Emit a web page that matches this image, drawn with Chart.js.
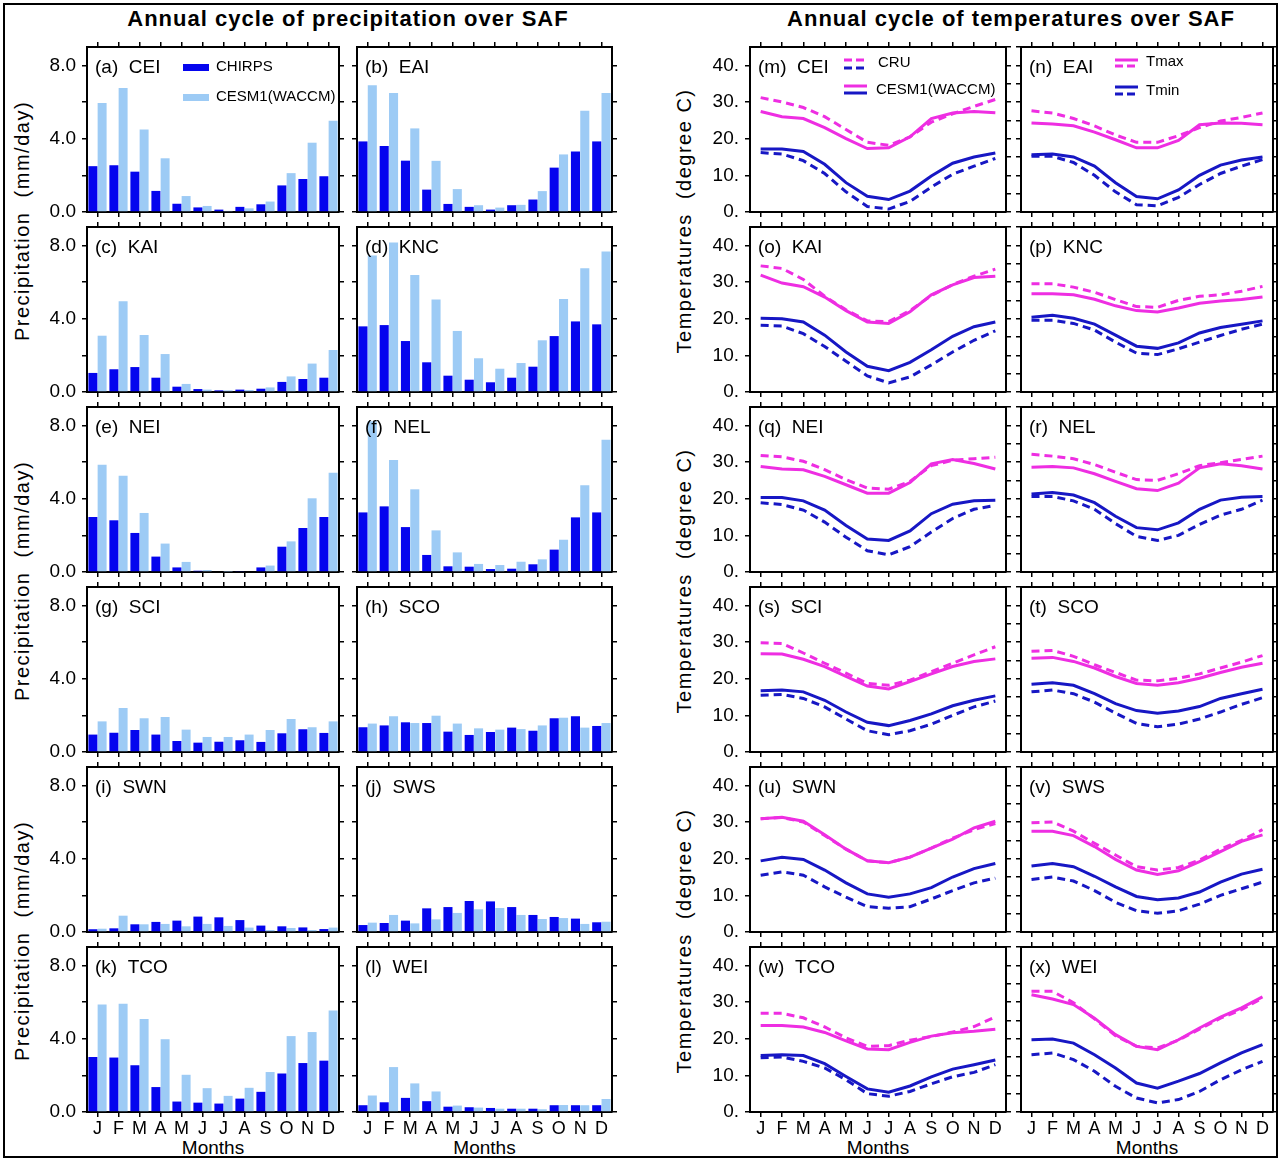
<!DOCTYPE html>
<html>
<head>
<meta charset="utf-8">
<title>Annual cycle over SAF</title>
<script src="https://cdn.jsdelivr.net/npm/chart.js@4.4.0/dist/chart.umd.min.js"></script>
<style>
  body { margin: 0; background: #fff; width: 1280px; height: 1159px; position: relative; overflow: hidden;
         font-family: 'Liberation Sans', Arial, sans-serif; color: #000; }
  canvas { position: absolute; }
  .frame { position: absolute; left: 3px; top: 3px; width: 1271px; height: 1151px; border: 2px solid #000; }
  .title { position: absolute; top: 6px; width: 600px; text-align: center; font-weight: bold; font-size: 22px;
           line-height: 26px; letter-spacing: 1px; }
  .ytitle { position: absolute; font-size: 20px; white-space: pre; letter-spacing: 1.5px;
            transform: translate(-50%, -50%) rotate(-90deg); }
  .months { position: absolute; top: 1137px; width: 200px; text-align: center; font-size: 19px; line-height: 22px; }
</style>
</head>
<body>
<div class="frame"></div>
<div class="title" style="left:48px">Annual cycle of precipitation over SAF</div>
<div class="title" style="left:711px">Annual cycle of temperatures over SAF</div>
<div id="texts"></div>

<script>
const months = ['J', 'F', 'M', 'A', 'M', 'J', 'J', 'A', 'S', 'O', 'N', 'D'];
const regions = ['CEI', 'EAI', 'KAI', 'KNC', 'NEI', 'NEL', 'SCI', 'SCO', 'SWN', 'SWS', 'TCO', 'WEI'];
const precLetters = ['a', 'b', 'c', 'd', 'e', 'f', 'g', 'h', 'i', 'j', 'k', 'l'];
const tempLetters = ['m', 'n', 'o', 'p', 'q', 'r', 's', 't', 'u', 'v', 'w', 'x'];

// precipitation (mm/day), one row per region in the order above
const chirpsPr = [
    [2.5, 2.55, 2.2, 1.15, 0.45, 0.25, 0.13, 0.28, 0.42, 1.45, 1.8, 1.95],      // CEI
    [3.85, 3.6, 2.8, 1.22, 0.44, 0.28, 0.13, 0.37, 0.68, 2.42, 3.3, 3.85],      // EAI
    [1.04, 1.24, 1.36, 0.78, 0.29, 0.16, 0.09, 0.13, 0.18, 0.55, 0.71, 0.78],   // KAI
    [3.58, 3.65, 2.78, 1.62, 0.89, 0.67, 0.53, 0.78, 1.38, 3.05, 3.85, 3.69],   // KNC
    [3.0, 2.82, 2.13, 0.84, 0.25, 0.07, 0.04, 0.05, 0.25, 1.38, 2.4, 3.0],      // NEI
    [3.25, 3.58, 2.45, 0.93, 0.31, 0.29, 0.16, 0.18, 0.42, 1.22, 2.98, 3.25],   // NEL
    [0.95, 1.05, 1.2, 0.95, 0.6, 0.51, 0.56, 0.64, 0.55, 1.02, 1.24, 1.04],     // SCI
    [1.35, 1.45, 1.62, 1.58, 1.11, 0.93, 1.09, 1.33, 1.16, 1.84, 1.95, 1.42],   // SCO
    [0.15, 0.2, 0.42, 0.55, 0.62, 0.84, 0.8, 0.65, 0.35, 0.31, 0.25, 0.16],     // SWN
    [0.38, 0.49, 0.62, 1.29, 1.36, 1.69, 1.67, 1.36, 0.93, 0.82, 0.73, 0.53],   // SWS
    [3.0, 2.97, 2.55, 1.36, 0.57, 0.51, 0.46, 0.73, 1.1, 2.1, 2.67, 2.8],       // TCO
    [0.37, 0.53, 0.77, 0.59, 0.29, 0.26, 0.22, 0.18, 0.18, 0.37, 0.37, 0.37]    // WEI
];
const cesmPr = [
    [5.94, 6.77, 4.5, 2.93, 0.87, 0.33, 0.06, 0.2, 0.57, 2.12, 3.78, 4.98],
    [6.92, 6.49, 4.56, 2.79, 1.25, 0.37, 0.24, 0.39, 1.14, 3.14, 5.52, 6.49],
    [3.07, 4.95, 3.11, 2.07, 0.44, 0.13, 0.09, 0.11, 0.25, 0.85, 1.55, 2.29],
    [7.44, 8.16, 6.38, 5.04, 3.33, 1.84, 1.27, 1.58, 2.82, 5.07, 6.75, 7.67],
    [5.85, 5.25, 3.22, 1.55, 0.55, 0.11, 0.02, 0.04, 0.35, 1.67, 4.02, 5.42],
    [8.22, 6.11, 4.51, 2.27, 1.07, 0.44, 0.38, 0.56, 0.69, 1.76, 4.73, 7.22],
    [1.67, 2.4, 1.84, 1.91, 1.22, 0.82, 0.82, 0.95, 1.2, 1.8, 1.35, 1.67],
    [1.55, 1.95, 1.58, 1.98, 1.55, 1.29, 1.22, 1.25, 1.45, 1.87, 1.33, 1.58],
    [0.18, 0.89, 0.42, 0.44, 0.31, 0.44, 0.33, 0.24, 0.11, 0.22, 0.11, 0.24],
    [0.51, 0.93, 0.47, 0.69, 1.04, 1.24, 1.31, 0.93, 0.71, 0.76, 0.44, 0.56],
    [5.86, 5.91, 5.07, 3.97, 2.03, 1.3, 0.88, 1.32, 2.18, 4.14, 4.36, 5.53],
    [0.9, 2.45, 1.56, 1.12, 0.35, 0.24, 0.18, 0.18, 0.15, 0.38, 0.37, 0.71]
];

// temperatures (degree C), same region order
const cruTmax = [
    [31.2, 30.0, 28.5, 26.0, 22.5, 19.0, 18.2, 20.5, 24.5, 26.8, 28.8, 30.7],
    [27.6, 27.0, 25.5, 23.5, 21.0, 19.0, 19.0, 20.8, 23.0, 24.8, 25.8, 27.0],
    [34.4, 33.7, 30.7, 26.1, 22.4, 19.4, 19.2, 22.2, 26.3, 29.3, 31.6, 33.5],
    [29.5, 29.5, 28.6, 27.2, 25.2, 23.3, 23.1, 25.0, 26.1, 26.5, 27.5, 28.8],
    [31.8, 31.4, 30.2, 27.9, 25.2, 22.9, 22.6, 24.7, 29.0, 30.5, 30.9, 31.3],
    [32.1, 31.6, 30.9, 29.3, 27.2, 25.2, 25.0, 26.8, 29.0, 29.8, 30.7, 31.6],
    [29.8, 29.6, 27.0, 24.2, 21.5, 18.7, 18.2, 19.6, 21.9, 24.2, 26.5, 28.7],
    [27.5, 27.7, 26.1, 23.8, 21.7, 19.6, 19.4, 20.1, 21.3, 22.9, 24.5, 26.3],
    [30.9, 31.2, 30.0, 26.3, 22.6, 19.4, 18.9, 20.4, 22.9, 25.6, 27.9, 29.6],
    [29.8, 30.0, 27.5, 24.2, 21.0, 17.8, 16.9, 17.6, 19.6, 22.6, 25.0, 27.9],
    [26.9, 26.9, 25.7, 23.2, 20.2, 17.9, 18.1, 19.6, 20.6, 21.8, 23.3, 25.9],
    [32.9, 32.9, 29.8, 25.4, 20.8, 17.9, 17.5, 19.6, 22.6, 25.6, 27.9, 31.1]
];
const cesmTmax = [
    [27.4, 26.0, 25.5, 23.0, 20.0, 17.3, 17.5, 20.5, 25.5, 27.0, 27.4, 27.1],
    [24.3, 24.0, 23.5, 21.8, 19.7, 17.5, 17.5, 19.5, 23.8, 24.3, 24.2, 23.8],
    [31.9, 29.7, 28.7, 25.9, 22.2, 19.1, 18.7, 21.9, 26.5, 29.2, 31.2, 31.6],
    [26.8, 26.8, 26.5, 25.3, 23.5, 22.2, 21.8, 22.9, 24.2, 24.8, 25.2, 25.9],
    [28.8, 28.1, 27.9, 26.1, 23.8, 21.5, 21.5, 24.4, 29.5, 30.7, 29.6, 28.1],
    [28.6, 28.8, 28.4, 26.8, 24.7, 22.7, 22.2, 24.2, 28.4, 29.5, 29.0, 28.1],
    [26.8, 26.7, 25.3, 23.3, 20.6, 18.0, 17.2, 19.2, 21.3, 23.3, 24.7, 25.4],
    [25.6, 25.8, 24.7, 22.9, 20.6, 18.7, 18.2, 18.9, 20.1, 21.7, 23.1, 24.2],
    [30.9, 31.3, 30.2, 26.5, 22.6, 19.4, 18.9, 20.4, 22.9, 25.3, 28.4, 30.2],
    [27.5, 27.5, 26.3, 23.3, 19.8, 16.9, 15.7, 16.7, 19.2, 21.9, 24.7, 26.5],
    [23.6, 23.6, 23.2, 21.7, 19.4, 17.2, 17.0, 19.0, 20.7, 21.6, 22.0, 22.6],
    [32.0, 30.8, 29.3, 25.6, 21.1, 17.9, 17.0, 19.7, 22.9, 25.9, 28.4, 31.4]
];
const cruTmin = [
    [16.2, 15.8, 14.0, 10.5, 5.5, 1.5, 0.8, 2.9, 6.8, 10.3, 12.5, 14.6],
    [15.2, 15.2, 13.5, 10.0, 5.5, 2.0, 1.7, 4.0, 7.5, 10.5, 12.5, 14.3],
    [18.2, 18.0, 15.9, 12.4, 8.4, 4.4, 2.5, 4.1, 7.4, 10.9, 14.1, 16.7],
    [19.6, 19.6, 18.7, 16.9, 13.6, 10.6, 10.2, 11.8, 13.6, 15.4, 17.1, 18.5],
    [18.9, 18.4, 16.9, 13.6, 9.5, 5.8, 4.7, 6.9, 10.9, 14.6, 17.1, 18.2],
    [20.6, 20.6, 19.4, 17.1, 13.2, 9.7, 8.6, 10.0, 13.0, 15.5, 17.1, 19.6],
    [15.5, 15.7, 14.6, 12.3, 9.0, 5.8, 4.7, 5.8, 7.6, 10.0, 12.3, 13.9],
    [16.4, 16.9, 15.9, 13.6, 10.6, 7.8, 6.9, 7.6, 9.0, 10.9, 13.0, 14.8],
    [15.5, 16.4, 15.5, 12.3, 9.5, 6.9, 6.5, 6.9, 9.0, 11.3, 13.4, 14.7],
    [14.3, 15.0, 13.9, 11.3, 8.1, 5.8, 5.1, 5.8, 7.6, 10.0, 11.8, 13.6],
    [14.8, 15.0, 13.8, 12.0, 8.8, 5.0, 4.3, 5.6, 7.7, 9.6, 10.8, 12.9],
    [15.6, 16.1, 14.3, 11.1, 7.0, 3.8, 2.5, 3.4, 5.6, 8.8, 11.5, 13.8]
];
const cesmTmin = [
    [17.2, 17.2, 16.5, 13.0, 8.0, 4.3, 3.4, 5.7, 9.8, 13.3, 15.0, 16.1],
    [15.6, 15.8, 15.0, 12.5, 8.0, 4.2, 3.6, 6.0, 10.0, 12.8, 14.2, 15.0],
    [20.1, 20.0, 19.1, 15.5, 10.9, 7.0, 5.8, 8.1, 11.5, 15.2, 17.8, 19.1],
    [20.4, 20.9, 20.1, 18.5, 15.5, 12.5, 11.9, 13.4, 16.1, 17.6, 18.5, 19.4],
    [20.3, 20.3, 19.4, 16.9, 12.7, 9.0, 8.6, 11.2, 15.9, 18.5, 19.4, 19.6],
    [21.3, 21.7, 21.0, 18.9, 15.2, 12.1, 11.5, 13.4, 17.1, 19.6, 20.4, 20.6],
    [16.7, 16.9, 16.4, 14.1, 10.9, 8.1, 7.2, 8.6, 10.4, 12.6, 14.1, 15.3],
    [18.5, 18.9, 18.2, 15.9, 13.2, 11.3, 10.6, 11.2, 12.4, 14.6, 15.9, 17.1],
    [19.4, 20.4, 19.8, 16.9, 13.4, 10.4, 9.5, 10.4, 12.1, 15.0, 17.3, 18.7],
    [18.0, 18.7, 17.8, 15.2, 12.3, 9.7, 8.8, 9.3, 10.9, 13.6, 15.8, 17.1],
    [15.4, 15.6, 15.4, 13.2, 9.7, 6.3, 5.4, 7.1, 9.6, 11.7, 12.9, 14.2],
    [19.7, 19.9, 18.8, 15.6, 12.0, 7.9, 6.5, 8.4, 10.5, 13.4, 16.1, 18.4]
];

const darkBlue = '#0505ee';
const lightBlue = '#9dcbf5';
const magenta = '#ee2ee2';
const lineBlue = '#1717c4';
const dash = [8, 5];

// panel boxes (plot areas) in page pixels
const precCols = [{ x: 87, w: 252 }, { x: 357, w: 255 }];
const tempCols = [{ x: 750, w: 256 }, { x: 1021, w: 252 }];
const rowTop = 47, rowStep = 180, boxH = 165;
const padL = 72, padR = 10, padT = 20, padB = 20, padBottomRow = 34;

Chart.defaults.font.family = "'Liberation Sans', Arial, sans-serif";
Chart.defaults.color = '#000';

const panelText = {
    id: 'panelText',
    afterDraw(chart, args, opts) {
        const { ctx, chartArea: a } = chart;
        ctx.save();
        ctx.fillStyle = '#000';
        ctx.textBaseline = 'middle';
        ctx.font = "19px 'Liberation Sans'";
        ctx.fillText(opts.label, a.left + 8, a.top + 21);
        ctx.font = "15px 'Liberation Sans'";
        const x0 = a.left + 94, x1 = a.left + 117;
        const seg = (y, color, dashed) => {
            ctx.beginPath();
            ctx.setLineDash(dashed ? [8, 4] : []);
            ctx.strokeStyle = color;
            ctx.lineWidth = 3;
            ctx.moveTo(x0, a.top + y);
            ctx.lineTo(x1, a.top + y);
            ctx.stroke();
        };
        if (opts.legend === 'prec') {
            ctx.fillStyle = darkBlue;
            ctx.fillRect(a.left + 96, a.top + 17, 26, 7);
            ctx.fillStyle = lightBlue;
            ctx.fillRect(a.left + 96, a.top + 47, 26, 7);
            ctx.fillStyle = '#000';
            ctx.fillText('CHIRPS', a.left + 129, a.top + 20);
            ctx.fillText('CESM1(WACCM)', a.left + 129, a.top + 50);
        } else if (opts.legend === 'source') {
            seg(13, magenta, true);
            seg(21, lineBlue, true);
            seg(39, magenta, false);
            seg(46, lineBlue, false);
            ctx.fillText('CRU', a.left + 128, a.top + 16);
            ctx.fillText('CESM1(WACCM)', a.left + 126, a.top + 43);
        } else if (opts.legend === 'var') {
            seg(13, magenta, false);
            seg(19, magenta, true);
            seg(40, lineBlue, false);
            seg(47, lineBlue, true);
            ctx.fillText('Tmax', a.left + 125, a.top + 15);
            ctx.fillText('Tmin', a.left + 125, a.top + 44);
        }
        ctx.restore();
    }
};

function frameGrid() {
    return { drawOnChartArea: false, drawTicks: true, tickLength: 5, color: '#000', lineWidth: 1.5, offset: false };
}
const frameBorder = { display: true, color: '#000', width: 2 };

function makeScales(col, bottomRow, yMax, yStep, yLabel) {
    return {
        x: {
            type: 'category', position: 'bottom', offset: true,
            grid: frameGrid(), border: frameBorder,
            ticks: { display: bottomRow, autoSkip: false, maxRotation: 0, padding: 1, font: { size: 18 } },
            afterFit: s => { s.height = bottomRow ? padBottomRow : padB; }
        },
        xTop: {
            type: 'category', position: 'top', offset: true,
            grid: frameGrid(), border: frameBorder,
            ticks: { display: false },
            afterFit: s => { s.height = padT; }
        },
        y: {
            type: 'linear', position: 'left', min: 0, max: yMax,
            grid: frameGrid(), border: frameBorder,
            ticks: { display: col === 0, stepSize: yStep, includeBounds: false, padding: 6, font: { size: 19 }, callback: yLabel },
            afterFit: s => { s.width = padL; }
        },
        yRight: {
            type: 'linear', position: 'right', min: 0, max: yMax,
            grid: frameGrid(), border: frameBorder,
            ticks: { display: false, stepSize: yStep, includeBounds: false },
            afterFit: s => { s.width = padR; }
        }
    };
}

function placeCanvas(box, bottomRow) {
    const canvas = document.createElement('canvas');
    const w = box.w + padL + padR;
    const h = box.h + padT + (bottomRow ? padBottomRow : padB);
    canvas.width = w;
    canvas.height = h;
    canvas.style.left = (box.x - padL) + 'px';
    canvas.style.top = (box.y - padT) + 'px';
    canvas.style.width = w + 'px';
    canvas.style.height = h + 'px';
    document.body.appendChild(canvas);
    return canvas;
}

const baseOptions = {
    responsive: false, animation: false, devicePixelRatio: 1, events: [],
    layout: { padding: 0 }
};

regions.forEach((region, i) => {
    const row = Math.floor(i / 2), col = i % 2;
    const bottomRow = row === 5;

    // precipitation panel
    const pBox = { x: precCols[col].x, w: precCols[col].w, y: rowTop + row * rowStep, h: boxH };
    new Chart(placeCanvas(pBox, bottomRow), {
        type: 'bar',
        data: {
            labels: months,
            datasets: [
                { label: 'CHIRPS', data: chirpsPr[i], backgroundColor: darkBlue, borderWidth: 0,
                  categoryPercentage: 0.88, barPercentage: 0.97, xAxisID: 'x', yAxisID: 'y' },
                { label: 'CESM1(WACCM)', data: cesmPr[i], backgroundColor: lightBlue, borderWidth: 0,
                  categoryPercentage: 0.88, barPercentage: 0.97, xAxisID: 'x', yAxisID: 'y' }
            ]
        },
        options: Object.assign({}, baseOptions, {
            scales: makeScales(col, bottomRow, 9, 2, v => (v % 4 === 0 ? v.toFixed(1) : '')),
            plugins: {
                legend: { display: false }, tooltip: { enabled: false },
                panelText: { label: '(' + precLetters[i] + ')  ' + region, legend: i === 0 ? 'prec' : '' }
            }
        }),
        plugins: [panelText]
    });

    // temperature panel
    const tBox = { x: tempCols[col].x, w: tempCols[col].w, y: rowTop + row * rowStep, h: boxH };
    const line = (label, data, color, dashed) => ({
        label, data, borderColor: color, borderWidth: 3, borderDash: dashed ? dash : [],
        pointRadius: 0, tension: 0, fill: false, xAxisID: 'x', yAxisID: 'y'
    });
    new Chart(placeCanvas(tBox, bottomRow), {
        type: 'line',
        data: {
            labels: months,
            datasets: [
                line('CRU Tmax', cruTmax[i], magenta, true),
                line('CESM1 Tmax', cesmTmax[i], magenta, false),
                line('CRU Tmin', cruTmin[i], lineBlue, true),
                line('CESM1 Tmin', cesmTmin[i], lineBlue, false)
            ]
        },
        options: Object.assign({}, baseOptions, {
            scales: makeScales(col, bottomRow, 45, 5, v => (v % 10 === 0 ? v + '.' : '')),
            plugins: {
                legend: { display: false }, tooltip: { enabled: false },
                panelText: { label: '(' + tempLetters[i] + ')  ' + region,
                             legend: i === 0 ? 'source' : (i === 1 ? 'var' : '') }
            }
        }),
        plugins: [panelText]
    });
});

// axis titles as page text
const texts = document.getElementById('texts');
[221, 581, 941].forEach(y => {
    const p = document.createElement('div');
    p.className = 'ytitle';
    p.style.left = '22px';
    p.style.top = y + 'px';
    p.textContent = 'Precipitation  (mm/day)';
    texts.appendChild(p);
    const t = document.createElement('div');
    t.className = 'ytitle';
    t.style.left = '684px';
    t.style.top = y + 'px';
    t.textContent = 'Temperatures  (degree C)';
    texts.appendChild(t);
});
[precCols[0], precCols[1], tempCols[0], tempCols[1]].forEach(c => {
    const m = document.createElement('div');
    m.className = 'months';
    m.style.left = (c.x + c.w / 2 - 100) + 'px';
    m.textContent = 'Months';
    texts.appendChild(m);
});
</script>
</body>
</html>
